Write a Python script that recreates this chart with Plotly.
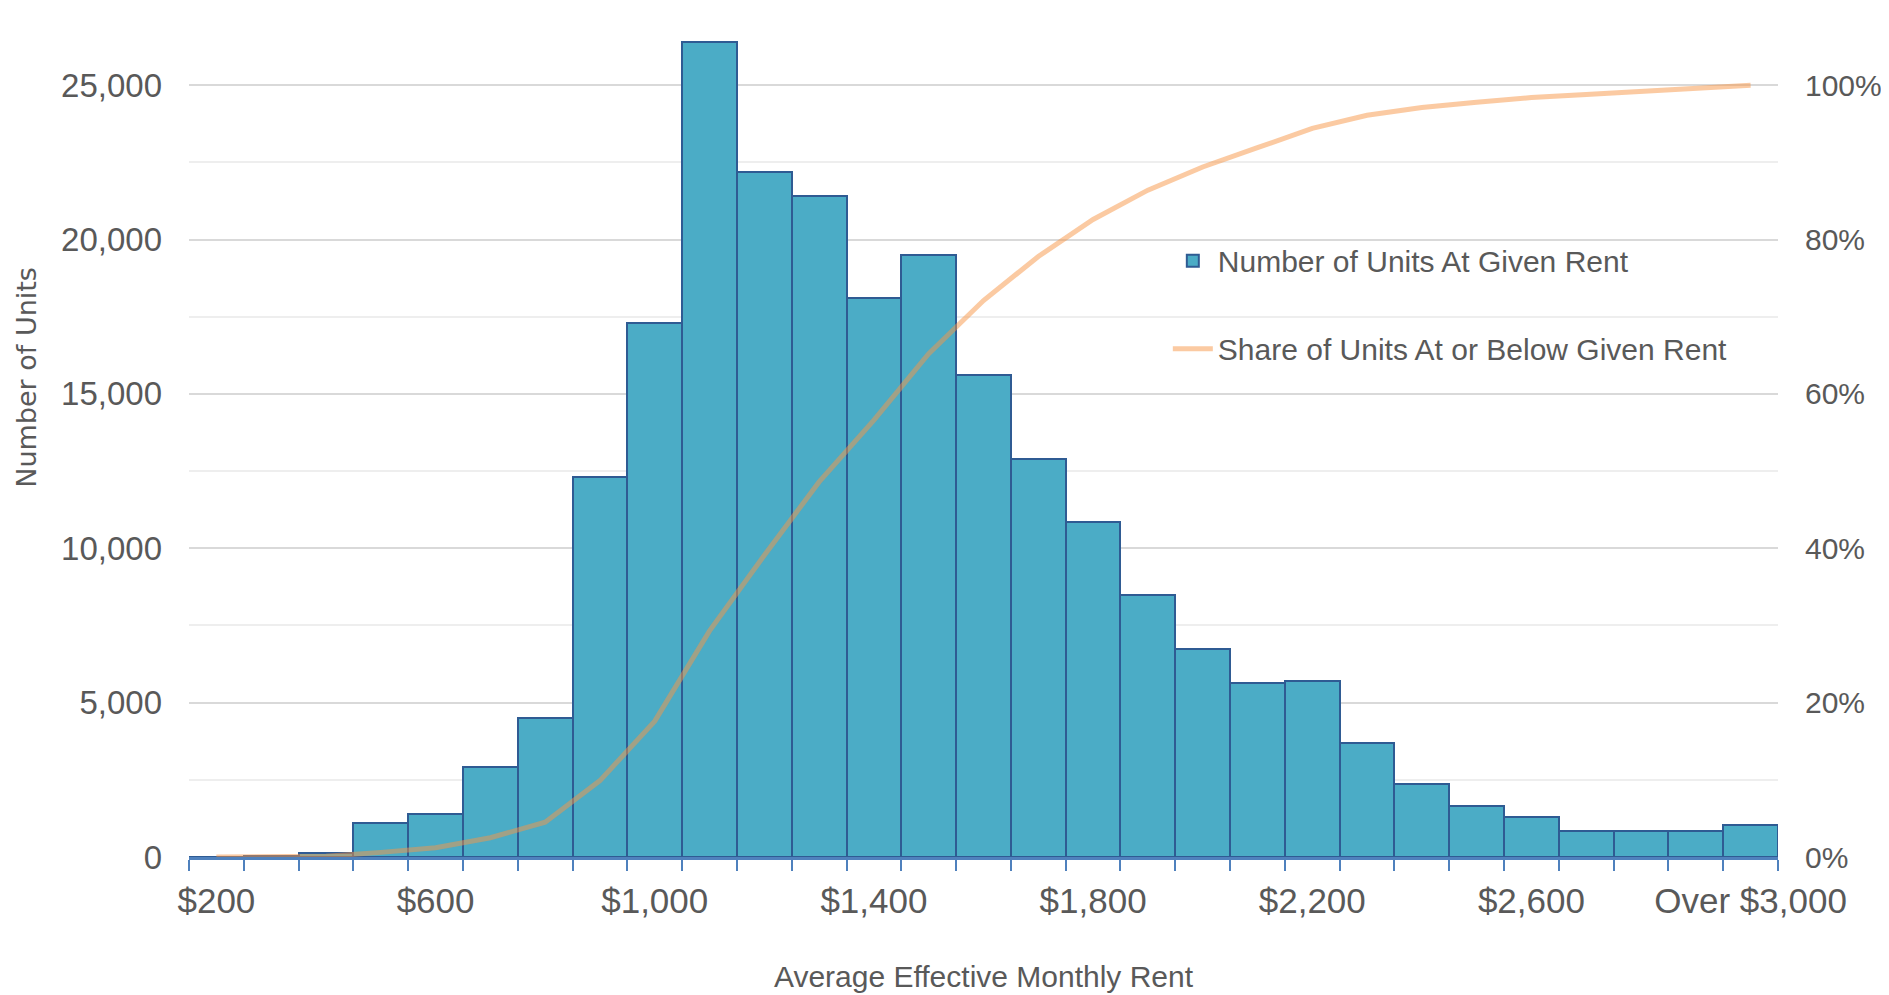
import plotly.graph_objects as go

# ---- data ----
categories = ["$200", "$300", "$400", "$500", "$600", "$700", "$800", "$900",
              "$1,000", "$1,100", "$1,200", "$1,300", "$1,400", "$1,500", "$1,600",
              "$1,700", "$1,800", "$1,900", "$2,000", "$2,100", "$2,200", "$2,300",
              "$2,400", "$2,500", "$2,600", "$2,700", "$2,800", "$2,900", "Over $3,000"]

units = [10, 30, 130, 1100, 1400, 2900, 4500, 12300, 17300, 26400, 22200, 21400,
         18100, 19500, 15600, 12900, 10850, 8500, 6750, 5650, 5700, 3700, 2350,
         1650, 1300, 850, 830, 850, 1050]

share = [0.000, 0.000, 0.001, 0.006, 0.012, 0.025, 0.045, 0.099, 0.176, 0.293,
         0.391, 0.486, 0.566, 0.652, 0.721, 0.778, 0.826, 0.864, 0.894, 0.919,
         0.944, 0.961, 0.971, 0.978, 0.984, 0.988, 0.992, 0.995, 1.000]

labelled = ["$200", "$600", "$1,000", "$1,400", "$1,800", "$2,200", "$2,600", "Over $3,000"]
tick_text = [c if c in labelled else "" for c in categories]

y_ticks = [0, 5000, 10000, 15000, 20000, 25000]
y2_ticks = [0, 0.2, 0.4, 0.6, 0.8, 1.0]

FONT = "Liberation Sans, Arial, sans-serif"
GREY = "#595959"

fig = go.Figure()
fig.add_trace(go.Bar(
    x=categories, y=units, name="Number of Units At Given Rent",
    marker=dict(color="#4BACC6", line=dict(color="#2F5B93", width=2)),
    legendgroup="a", yaxis="y",
))
fig.add_trace(go.Scatter(
    x=categories, y=share, name="Share of Units At or Below Given Rent",
    mode="lines", line=dict(color="rgba(247,150,70,0.5)", width=5),
    legendgroup="b", yaxis="y2",
))

fig.update_layout(
    width=1881, height=987,
    margin=dict(l=181, r=111, t=0, b=138),
    paper_bgcolor="white", plot_bgcolor="white",
    font=dict(family=FONT, color=GREY),
    bargap=0,
    showlegend=True,
    legend=dict(x=0.616, y=0.733, xanchor="left", yanchor="top",
                font=dict(size=30, color=GREY), tracegroupgap=46,
                bgcolor="rgba(0,0,0,0)", itemwidth=40),
    xaxis=dict(
        type="category", tickmode="array", tickvals=categories, ticktext=tick_text,
        tickson="boundaries", ticks="outside", ticklen=11, tickwidth=1.5,
        tickcolor="#4F81BD", showline=True, linecolor="#4F81BD", linewidth=2.5,
        showgrid=False, tickfont=dict(size=35, color=GREY), ticklabelstandoff=11,
        tickangle=0, automargin=False,
        title=dict(text="Average Effective Monthly Rent", font=dict(size=30, color=GREY),
                   standoff=48),
    ),
    yaxis=dict(
        range=[0, 27500], tickvals=y_ticks, tickformat=",d",
        showgrid=True, gridcolor="#D9D9D9", gridwidth=1.5,
        minor=dict(dtick=2500, showgrid=True, gridcolor="#EEEEEE", gridwidth=1.5),
        zeroline=False, showline=False, ticks="", automargin=False,
        tickfont=dict(size=33, color=GREY), ticklabelstandoff=26,
    ),
    yaxis2=dict(
        range=[0, 1.1], tickvals=y2_ticks, tickformat=".0%", overlaying="y",
        side="right", showgrid=False, zeroline=False, showline=False, ticks="",
        automargin=False,
        tickfont=dict(size=30, color=GREY), ticklabelstandoff=26,
    ),
    annotations=[dict(
        text="Number of Units", textangle=-90, xref="paper", yref="paper",
        x=-0.1023, y=0.565, xanchor="center", yanchor="middle", showarrow=False,
        font=dict(size=27, color=GREY, family="DejaVu Sans, sans-serif"),
    )],
)

fig.write_html("out.html")
